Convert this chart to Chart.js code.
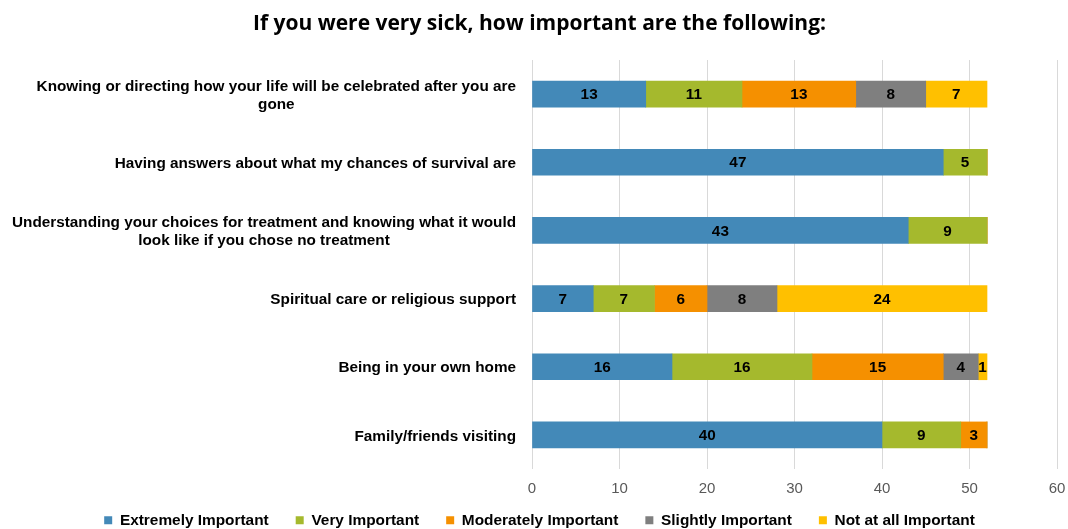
<!DOCTYPE html>
<html lang="en">
<head>
<meta charset="UTF-8">
<title>If you were very sick, how important are the following</title>
<script src="https://cdn.jsdelivr.net/npm/chart.js"></script>
<style>
    html, body { margin: 0; padding: 0; background: #fff; }
    #wrap { width: 1068px; height: 529px; }
</style>
</head>
<body>
<div id="wrap"><canvas id="sickChart" width="1068" height="529"></canvas></div>
<script>
// Categories (multi-line labels as arrays)
const categories = [
    ['Knowing or directing how your life will be celebrated after you are', 'gone'],
    ['Having answers about what my chances of survival are'],
    ['Understanding your choices for treatment and knowing what it would', 'look like if you chose no treatment'],
    ['Spiritual care or religious support'],
    ['Being in your own home'],
    ['Family/friends visiting']
];
const seriesNames = ['Extremely Important', 'Very Important', 'Moderately Important', 'Slightly Important', 'Not at all Important'];
const extremely  = [13, 47, 43, 7, 16, 40];
const very       = [11, 5, 9, 7, 16, 9];
const moderately = [13, 0, 0, 6, 15, 3];
const slightly   = [8, 0, 0, 8, 4, 0];
const notAtAll   = [7, 0, 0, 24, 1, 0];
const xTicks = [0, 10, 20, 30, 40, 50, 60];

const colors = ['#4389B8', '#A5B92D', '#F59000', '#7F7F7F', '#FFC000'];
const allSeries = [extremely, very, moderately, slightly, notAtAll];
const labelFont = 'bold 15.3px "Liberation Sans", Arial, sans-serif';

// category labels: block right-aligned, lines centered within block
const yLabelPlugin = {
    id: 'yLabels',
    afterDraw(chart) {
        const ctx = chart.ctx;
        const y = chart.scales.y;
        ctx.save();
        ctx.font = labelFont;
        ctx.fillStyle = '#000';
        ctx.textAlign = 'center';
        ctx.textBaseline = 'middle';
        categories.forEach((lines, i) => {
            const maxW = Math.max(...lines.map(l => ctx.measureText(l).width));
            const cx = y.right - 16 - maxW / 2;
            const cy = y.getPixelForValue(i) + 1.5;
            lines.forEach((l, j) => {
                ctx.fillText(l, cx, cy + (j - (lines.length - 1) / 2) * 18);
            });
        });
        ctx.restore();
    }
};

// x tick labels, placed with the x scale
const xLabelPlugin = {
    id: 'xLabels',
    afterDraw(chart) {
        const ctx = chart.ctx;
        const x = chart.scales.x;
        ctx.save();
        ctx.font = '15px "Liberation Sans", Arial, sans-serif';
        ctx.fillStyle = '#595959';
        ctx.textAlign = 'center';
        ctx.textBaseline = 'middle';
        xTicks.forEach(v => {
            ctx.fillText(String(v), x.getPixelForValue(v), chart.chartArea.bottom + 20);
        });
        ctx.restore();
    }
};

// value labels inside bars
const valueLabelPlugin = {
    id: 'valueLabels',
    afterDatasetsDraw(chart) {
        const ctx = chart.ctx;
        ctx.save();
        ctx.font = labelFont;
        ctx.fillStyle = '#000';
        ctx.textAlign = 'center';
        ctx.textBaseline = 'middle';
        chart.data.datasets.forEach((ds, di) => {
            const meta = chart.getDatasetMeta(di);
            meta.data.forEach((bar, i) => {
                const v = ds.data[i];
                if (!v) return;
                const p = bar.getCenterPoint();
                ctx.fillText(String(v), p.x, p.y + 1);
            });
        });
        ctx.restore();
    }
};

const ctx = document.getElementById('sickChart').getContext('2d');
new Chart(ctx, {
    type: 'bar',
    data: {
        labels: categories,
        datasets: allSeries.map((d, i) => ({
            label: seriesNames[i],
            data: d,
            backgroundColor: colors[i],
            borderWidth: 0,
            barThickness: 26
        }))
    },
    options: {
        indexAxis: 'y',
        responsive: false,
        animation: false,
        layout: { padding: { left: 22, right: 11, top: 0, bottom: -9 } },
        plugins: {
            title: {
                display: true,
                text: 'If you were very sick, how important are the following:',
                color: '#000',
                font: { family: '"Open Sans", "Liberation Sans", sans-serif', size: 21, weight: 'bold' },
                padding: { top: 11.4, bottom: 23.4 }
            },
            legend: {
                position: 'bottom',
                labels: {
                    boxWidth: 8,
                    boxHeight: 8,
                    color: '#000',
                    font: { family: '"Liberation Sans", Arial, sans-serif', size: 15.4, weight: 'bold' },
                    padding: 27
                }
            },
            tooltip: { enabled: false }
        },
        scales: {
            x: {
                stacked: true,
                min: 0,
                max: 60,
                afterBuildTicks: scale => { scale.ticks = xTicks.map(v => ({ value: v })); },
                afterFit: scale => { scale.height = 16.6; },
                ticks: { display: false },
                grid: { color: '#d9d9d9', drawTicks: false, tickLength: 0 },
                border: { display: false }
            },
            y: {
                stacked: true,
                ticks: { display: false },
                grid: { display: false },
                border: { display: false },
                afterFit: scale => { scale.width = 510; }
            }
        }
    },
    plugins: [yLabelPlugin, xLabelPlugin, valueLabelPlugin]
});
</script>
</body>
</html>
